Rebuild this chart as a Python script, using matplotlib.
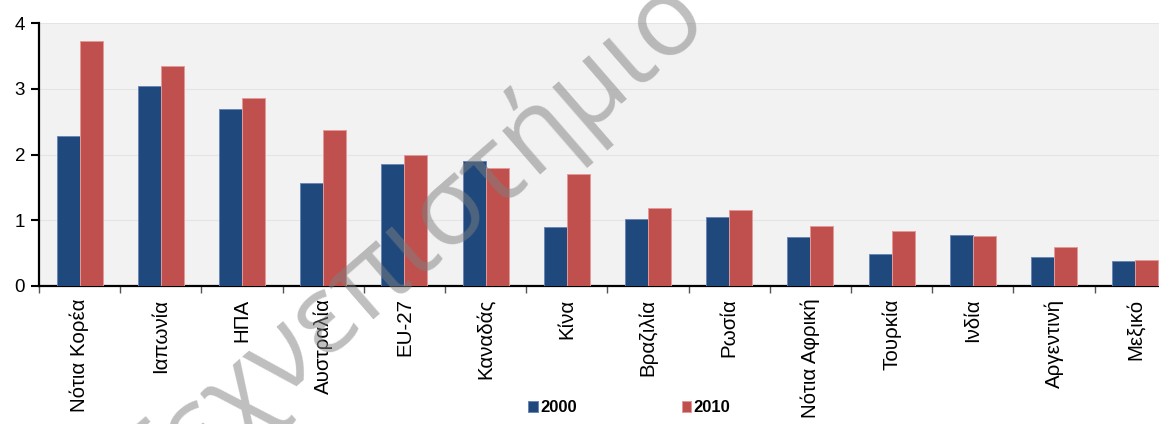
import numpy as np
import matplotlib
matplotlib.use('Agg')
import matplotlib.pyplot as plt

countries = ['Νότια Κορέα', 'Ιαπωνία', 'ΗΠΑ', 'Αυστραλία', 'EU-27', 'Καναδάς', 'Κίνα',
             'Βραζιλία', 'Ρωσία', 'Νότια Αφρική', 'Τουρκία', 'Ινδία', 'Αργεντινή', 'Μεξικό']
values_2000 = [2.29, 3.04, 2.70, 1.57, 1.86, 1.91, 0.90, 1.02, 1.05, 0.74, 0.48, 0.77, 0.44, 0.38]
values_2010 = [3.73, 3.35, 2.86, 2.37, 2.00, 1.80, 1.70, 1.19, 1.16, 0.92, 0.84, 0.76, 0.59, 0.40]
years = ['2000', '2010']

plt.rcParams['font.family'] = ['Liberation Sans', 'DejaVu Sans']

fig = plt.figure(figsize=(11.59, 4.24), dpi=100)
# plot area runs a bit past the right edge of the image, like the original
ax = fig.add_axes([39 / 1159, 1 - 286 / 424, 14 * 81.2 / 1159, (286 - 23.3) / 424])
ax.set_facecolor('#F2F2F2')

x = np.arange(len(countries))
w = 0.283
ax.bar(x - w / 2, values_2000, w, color='#1F497D', edgecolor='#6A87B5', linewidth=0.7,
       label=years[0], zorder=3)
ax.bar(x + w / 2, values_2010, w, color='#C0504D', edgecolor='#E39A98', linewidth=0.7,
       label=years[1], zorder=3)

ax.set_xlim(-0.5, len(countries) - 0.5)
ax.set_ylim(0, 4)
ax.set_yticks([0, 1, 2, 3, 4])
ax.yaxis.grid(True, color='#E4E4E4', linewidth=0.8, zorder=0)

ax.set_xticks(x)
ax.set_xticklabels(countries, rotation=90, fontsize=14.8)
ax.set_xticks(np.arange(len(countries) + 1) - 0.5, minor=True)
ax.tick_params(axis='x', which='major', length=0, pad=9)
ax.tick_params(axis='x', which='minor', length=5, width=1, color='#555555', direction='out')
ax.tick_params(axis='y', length=6, width=1.5, labelsize=13.5, pad=4)

for s in ['top', 'right']:
    ax.spines[s].set_visible(False)
ax.spines['left'].set_linewidth(1.6)
ax.spines['bottom'].set_linewidth(1.6)

fig.legend(loc='center', bbox_to_anchor=(0.543, 0.038), ncol=2, frameon=False,
           prop={'weight': 'bold', 'size': 12}, handlelength=0.55, handleheight=0.55,
           handletextpad=0.15, columnspacing=6.3, borderpad=0)

# watermark (runs off the image, as in the original)
fig.text(412 / 1159, 1 - 245 / 424, 'Τεχνεπιστήμιο', fontsize=78, color='#7F7F7F',
         alpha=0.5, rotation=41, ha='center', va='center', rotation_mode='anchor',
         family=['Open Sans', 'DejaVu Sans'], zorder=10)

fig.savefig('out.png', dpi=100)
